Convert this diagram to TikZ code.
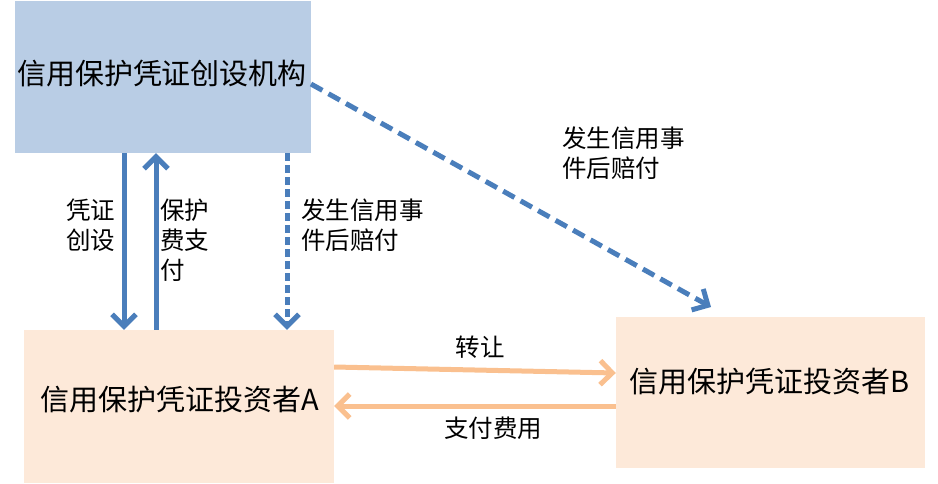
\documentclass[tikz,border=0pt]{standalone}
\usepackage{fontspec}
\setmainfont{Noto Sans CJK SC}
\usetikzlibrary{arrows.meta}
\definecolor{topfill}{HTML}{B9CDE5}
\definecolor{invfill}{HTML}{FDE9D9}
\definecolor{bluearr}{HTML}{4A7EBB}
\definecolor{orangearr}{HTML}{FAC08F}
\tikzset{
  box/.style={rectangle, draw=none, inner sep=0pt},
  bigtext/.style={font=\fontsize{29pt}{34pt}\selectfont, inner sep=0pt},
  lbl/.style={font=\fontsize{24.5pt}{30pt}\selectfont, inner sep=0pt, align=left},
  bluesolid/.style={draw=bluearr, line width=5pt, -{Straight Barb[length=12pt,width=24pt]}},
  bluedash/.style={draw=bluearr, line width=5pt, dash pattern=on 8pt off 4pt, -{Straight Barb[length=12pt,width=24pt]}},
  bluedashlong/.style={draw=bluearr, line width=5pt, dash pattern=on 13pt off 7pt, -{Straight Barb[length=12pt,width=24pt]}},
  orangearrow/.style={draw=orangearr, line width=5pt, -{Straight Barb[length=12pt,width=24pt]}},
}
\begin{document}
\begin{tikzpicture}[x=1pt,y=-1pt]
\useasboundingbox (0,0) rectangle (938,483);
% boxes
\node[box, fill=topfill, minimum width=296pt, minimum height=152pt] (inst) at (163,77) {};
\node[box, fill=invfill, minimum width=310pt, minimum height=153pt] (A) at (179,406.5) {};
\node[box, fill=invfill, minimum width=309pt, minimum height=151pt] (B) at (770.5,392.5) {};
% box texts
\node[bigtext] (instT) at (162,74) {信用保护凭证创设机构};
\node[bigtext] (AT) at (180,400) {信用保护凭证投资者A};
\node[bigtext] (BT) at (770,382) {信用保护凭证投资者B};
% vertical arrows
\coordinate (c1) at (124,0);
\coordinate (c2) at (156,0);
\coordinate (c3) at (287,0);
\draw[bluesolid] (inst.south -| c1) -- (A.north -| c1);
\draw[bluesolid] (A.north -| c2) -- (inst.south -| c2);
\draw[bluedash] (inst.south -| c3) -- (A.north -| c3);
% diagonal dashed
\coordinate (d1) at (311,84);
\coordinate (d2) at (711,307);
\draw[bluedashlong] (d1) -- (d2);
% orange arrows
\coordinate (o1) at (0,367);
\coordinate (o2) at (0,373);
\coordinate (o3) at (0,406);
\draw[orangearrow] (A.east |- o1) -- (B.west |- o2);
\draw[orangearrow] (B.west |- o3) -- (A.east |- o3);
% labels
\node[lbl, anchor=west] (l1) at (66,225) {凭证\\创设};
\node[lbl, anchor=west] (l2) at (160,240) {保护\\费支\\付};
\node[lbl, anchor=west] (l3) at (301,225) {发生信用事\\件后赔付};
\node[lbl, anchor=west] (l4) at (562,153) {发生信用事\\件后赔付};
\node[lbl] (l5) at (480,347) {转让};
\node[lbl] (l6) at (493,428) {支付费用};
\end{tikzpicture}
\end{document}
